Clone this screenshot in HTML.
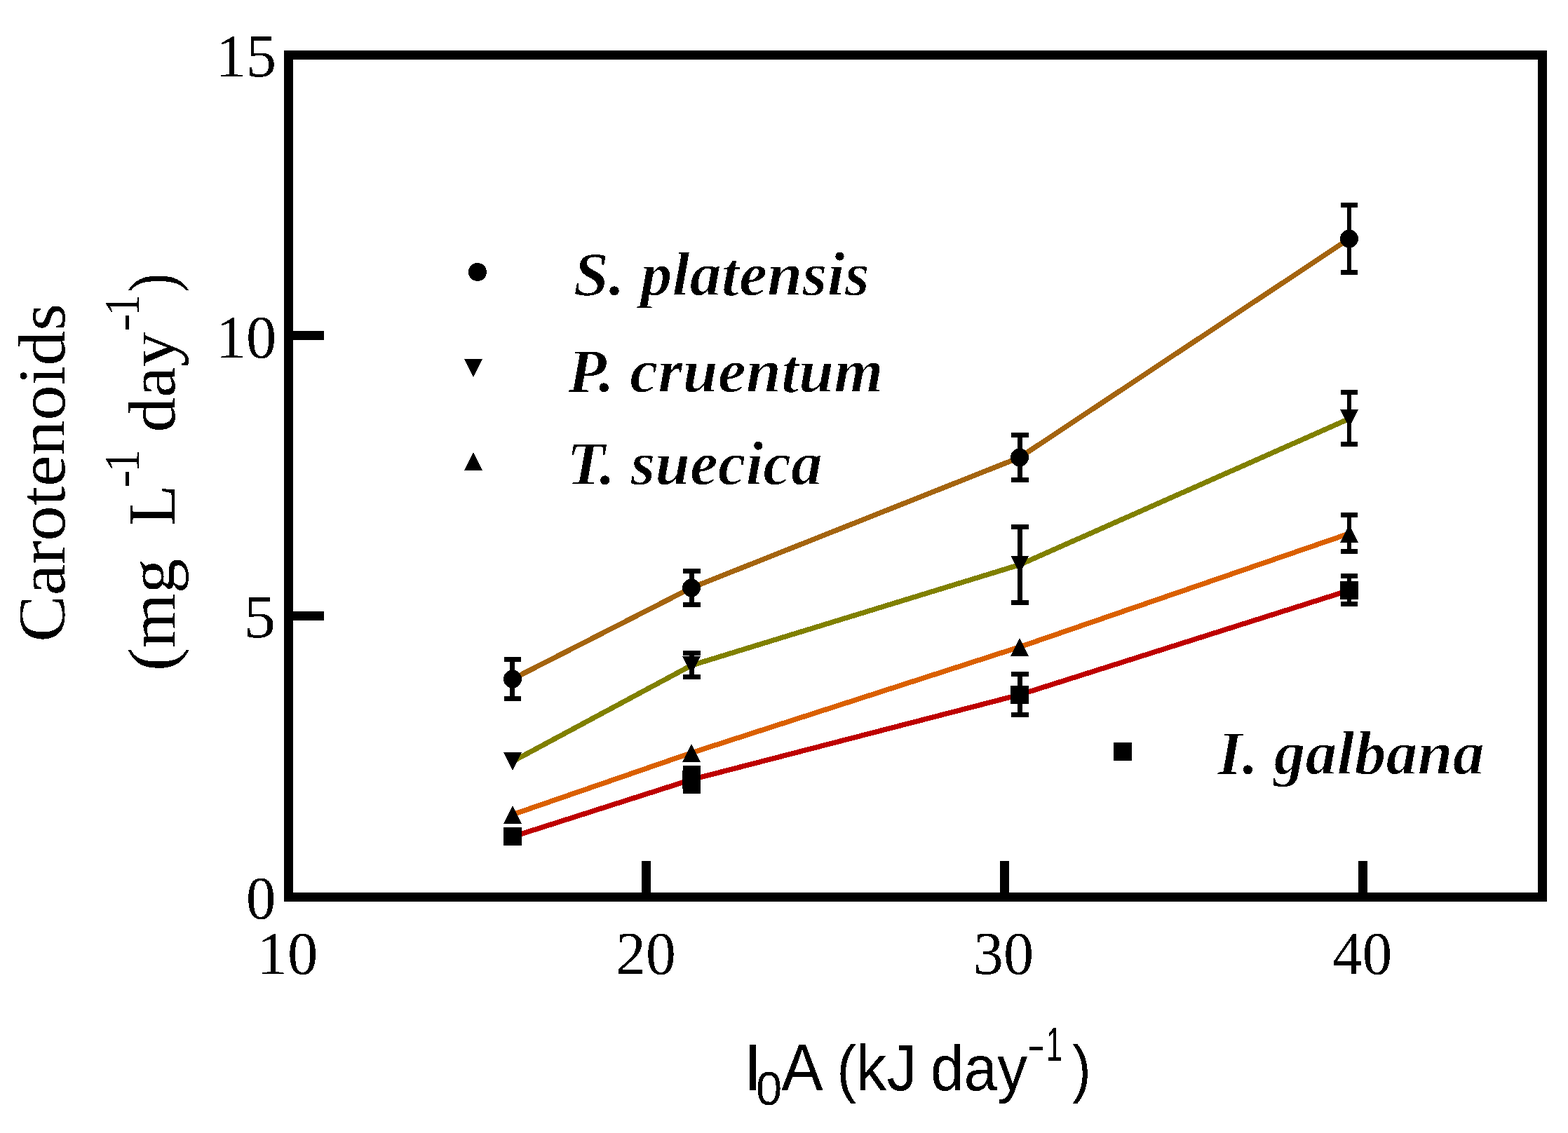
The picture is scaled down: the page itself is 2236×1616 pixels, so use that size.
<!DOCTYPE html>
<html lang="en"><head><meta charset="utf-8"><title>Carotenoids productivity vs I0A</title>
<style>
html,body{margin:0;padding:0;background:#fff;width:2236px;height:1616px;overflow:hidden}
svg{display:block}
</style></head>
<body>
<svg width="2236" height="1616" viewBox="0 0 2236 1616" shape-rendering="crispEdges">
<defs>
<filter id="bin" color-interpolation-filters="sRGB">
<feColorMatrix type="matrix" values="0 0 0 0 0  0 0 0 0 0  0 0 0 0 0  -0.333 -0.333 -0.334 1 0"/>
<feComponentTransfer><feFuncA type="discrete" tableValues="0 1"/></feComponentTransfer>
</filter>
</defs>
<rect width="2236" height="1616" fill="#fff"/>
<g fill="none" stroke="#000" stroke-width="13">
<rect x="411.5" y="78.5" width="1788" height="1201"/>
<path d="M411 478.5H462M411 878.5H462M921.5 1228V1280M1432.4 1228V1280M1943 1228V1280"/>
</g>
<g fill="#000" font-family="Liberation Serif, serif" filter="url(#bin)">
<text x="307.78" y="109.20" font-size="86" textLength="86.23" lengthAdjust="spacingAndGlyphs">15</text>
<text x="307.65" y="509.90" font-size="86" textLength="86.57" lengthAdjust="spacingAndGlyphs">10</text>
<text x="347.50" y="908.80" font-size="86" textLength="45.58" lengthAdjust="spacingAndGlyphs">5</text>
<text x="350.95" y="1309.80" font-size="86" textLength="42.30" lengthAdjust="spacingAndGlyphs">0</text>
<text x="366.64" y="1388.80" font-size="86" textLength="86.69" lengthAdjust="spacingAndGlyphs">10</text>
<text x="878.01" y="1388.80" font-size="86" textLength="85.78" lengthAdjust="spacingAndGlyphs">20</text>
<text x="1387.78" y="1388.80" font-size="86" textLength="86.33" lengthAdjust="spacingAndGlyphs">30</text>
<text x="1900.32" y="1388.80" font-size="86" textLength="84.94" lengthAdjust="spacingAndGlyphs">40</text>
</g>
<g fill="#000" font-family="Liberation Serif, serif" filter="url(#bin)">
<text transform="translate(92.00 915.86) rotate(-90)" font-size="96" textLength="482.95" lengthAdjust="spacingAndGlyphs">Carotenoids</text>
<text transform="translate(249.00 957.15) rotate(-90)" font-size="96" textLength="160.56" lengthAdjust="spacingAndGlyphs">(mg</text>
<text transform="translate(249.00 750.21) rotate(-90)" font-size="96" textLength="58.76" lengthAdjust="spacingAndGlyphs">L</text>
<text transform="translate(198.00 695.75) rotate(-90)" font-size="71" textLength="25.63" lengthAdjust="spacingAndGlyphs">-</text>
<text transform="translate(198.00 673.52) rotate(-90)" font-size="71" textLength="32.66" lengthAdjust="spacingAndGlyphs">1</text>
<text transform="translate(249.00 616.49) rotate(-90)" font-size="96" textLength="142.92" lengthAdjust="spacingAndGlyphs">day</text>
<text transform="translate(198.00 472.75) rotate(-90)" font-size="71" textLength="25.63" lengthAdjust="spacingAndGlyphs">-</text>
<text transform="translate(198.00 450.54) rotate(-90)" font-size="71" textLength="30.39" lengthAdjust="spacingAndGlyphs">1</text>
<text transform="translate(249.00 417.37) rotate(-90)" font-size="96" textLength="27.37" lengthAdjust="spacingAndGlyphs">)</text>
</g>
<g fill="#000" font-family="Liberation Sans, sans-serif" filter="url(#bin)">
<text x="1059.66" y="1555.00" font-size="94" textLength="27.10" lengthAdjust="spacingAndGlyphs">I</text>
<text x="1077.89" y="1575.90" font-size="69" textLength="37.21" lengthAdjust="spacingAndGlyphs">0</text>
<text x="1114.30" y="1555.00" font-size="94" textLength="59.37" lengthAdjust="spacingAndGlyphs">A</text>
<text x="1193.27" y="1554.80" font-size="91" textLength="27.94" lengthAdjust="spacingAndGlyphs">(</text>
<text x="1221.04" y="1555.00" font-size="92" textLength="86.76" lengthAdjust="spacingAndGlyphs">kJ</text>
<text x="1327.00" y="1555.00" font-size="90" textLength="138.01" lengthAdjust="spacingAndGlyphs">day</text>
<text x="1464.41" y="1513.70" font-size="69" textLength="25.96" lengthAdjust="spacingAndGlyphs">-</text>
<text x="1491.77" y="1513.10" font-size="69" textLength="23.28" lengthAdjust="spacingAndGlyphs">1</text>
<text x="1529.12" y="1554.80" font-size="91" textLength="26.78" lengthAdjust="spacingAndGlyphs">)</text>
</g>
<polyline points="731,968.5 986,838.4 1454,652.5 1924,340.5" fill="none" stroke="#A4640F" stroke-width="7.3" stroke-linejoin="round"/>
<polyline points="731,1086 986,949 1454,805.5 1924,597.3" fill="none" stroke="#808000" stroke-width="7.3" stroke-linejoin="round"/>
<polyline points="731,1161.8 986,1073.8 1454,922.8 1924,761" fill="none" stroke="#DA6000" stroke-width="7.3" stroke-linejoin="round"/>
<polyline points="731,1193.4 986,1112 1454,990.9 1924,842" fill="none" stroke="#BE0000" stroke-width="7.3" stroke-linejoin="round"/>
<rect x="727" y="940.5" width="7" height="55.9"/>
<rect x="719" y="937" width="24" height="7"/>
<rect x="719" y="992.9" width="24" height="7"/>
<circle cx="731" cy="968.5" r="13"/>
<rect x="983" y="814.4" width="7" height="48"/>
<rect x="974" y="810.9" width="25" height="7"/>
<rect x="974" y="858.9" width="25" height="7"/>
<circle cx="986" cy="838.4" r="13"/>
<rect x="1451" y="620.5" width="7" height="63.9"/>
<rect x="1442" y="617" width="25" height="7"/>
<rect x="1442" y="680.9" width="25" height="7"/>
<circle cx="1454" cy="652.5" r="13"/>
<rect x="1921" y="292.5" width="6" height="96"/>
<rect x="1912" y="289" width="24" height="7"/>
<rect x="1912" y="385" width="24" height="7"/>
<circle cx="1924" cy="340.5" r="13"/>
<path d="M718 1073H744L731 1099Z"/>
<rect x="983" y="931.5" width="7" height="34"/>
<rect x="974" y="928" width="25" height="7"/>
<rect x="974" y="962" width="25" height="7"/>
<path d="M973 936H999L986 962Z"/>
<rect x="1451" y="751.5" width="7" height="107.9"/>
<rect x="1442" y="748" width="25" height="7"/>
<rect x="1442" y="855.9" width="25" height="7"/>
<path d="M1441 792.5H1467L1454 818.5Z"/>
<rect x="1921" y="559.4" width="6" height="74"/>
<rect x="1912" y="555.9" width="24" height="7"/>
<rect x="1912" y="629.9" width="24" height="7"/>
<path d="M1911 584.3H1937L1924 610.3Z"/>
<path d="M718 1174.8H744L731 1148.8Z"/>
<path d="M973 1086.8H999L986 1060.8Z"/>
<path d="M1441 935.8H1467L1454 909.8Z"/>
<rect x="1921" y="734.5" width="6" height="52"/>
<rect x="1912" y="731" width="24" height="7"/>
<rect x="1912" y="783" width="24" height="7"/>
<path d="M1911 774H1937L1924 748Z"/>
<rect x="718" y="1180.4" width="26" height="26"/>
<rect x="983" y="1095.5" width="7" height="32.5"/>
<rect x="974" y="1092" width="25" height="7"/>
<rect x="974" y="1124.5" width="25" height="7"/>
<rect x="973" y="1099" width="26" height="26"/>
<rect x="1451" y="961.5" width="7" height="58"/>
<rect x="1442" y="958" width="25" height="7"/>
<rect x="1442" y="1016" width="25" height="7"/>
<rect x="1441" y="977.9" width="26" height="26"/>
<rect x="1921" y="821.4" width="6" height="40.1"/>
<rect x="1912" y="817.9" width="24" height="7"/>
<rect x="1912" y="858" width="24" height="7"/>
<rect x="1911" y="829" width="26" height="26"/>
<circle cx="681" cy="388" r="13"/>
<path d="M662 512.4H688L675 538.4Z"/>
<path d="M662 671H688L675 645Z"/>
<rect x="1588" y="1059" width="26" height="26"/>
<g fill="#000" font-family="Liberation Serif, serif" filter="url(#bin)">
<text x="817.67" y="420.50" font-size="89" font-weight="bold" font-style="italic" stroke="#fff" stroke-width="1.2" textLength="422.24" lengthAdjust="spacingAndGlyphs">S. platensis</text>
<text x="809.69" y="559.00" font-size="89" font-weight="bold" font-style="italic" stroke="#fff" stroke-width="1.2" textLength="449.67" lengthAdjust="spacingAndGlyphs">P. cruentum</text>
<text x="808.16" y="690.60" font-size="89" font-weight="bold" font-style="italic" stroke="#fff" stroke-width="1.2" textLength="364.72" lengthAdjust="spacingAndGlyphs">T. suecica</text>
<text x="1736.40" y="1104.30" font-size="89" font-weight="bold" font-style="italic" stroke="#fff" stroke-width="1.2" textLength="380.31" lengthAdjust="spacingAndGlyphs">I. galbana</text>
</g>
</svg>
</body></html>
